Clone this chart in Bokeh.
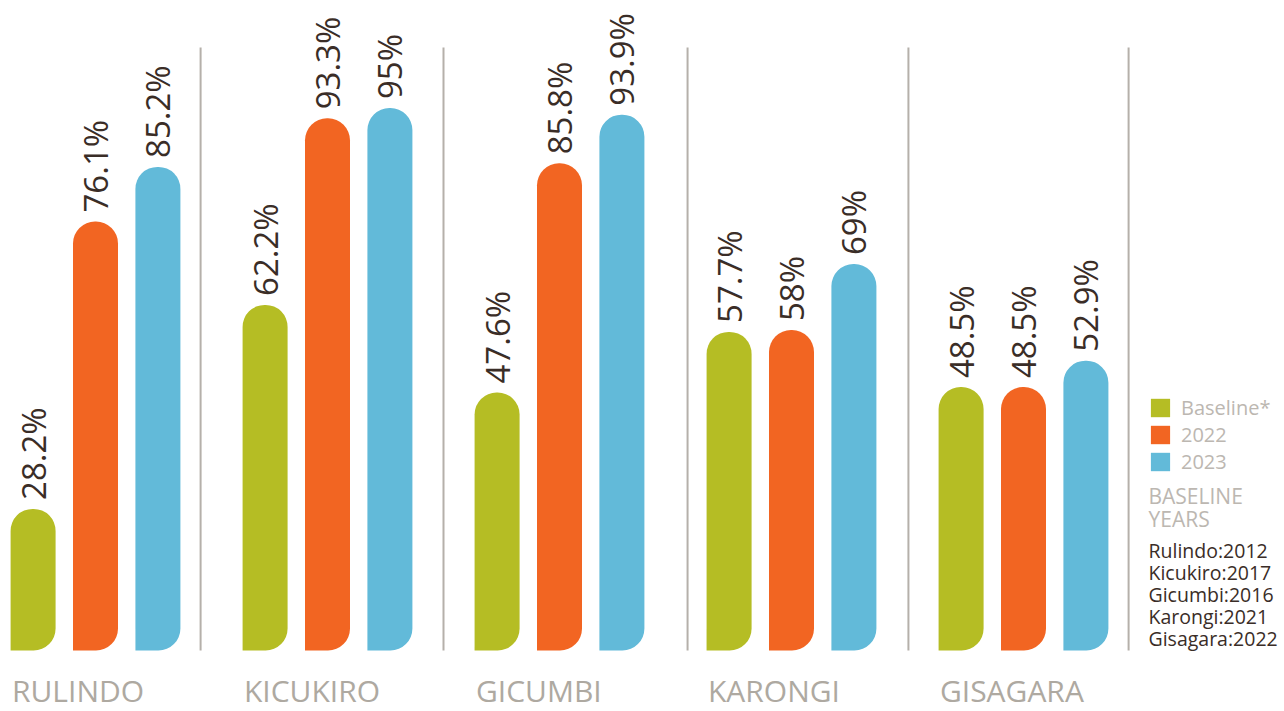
import math
from bokeh.plotting import figure
from bokeh.models import Range1d, ColumnDataSource, Legend, LegendItem, Label
from bokeh.core.properties import value
from bokeh.embed import file_html
from bokeh.resources import INLINE

# ---------------- data ----------------
districts = ["RULINDO", "KICUKIRO", "GICUMBI", "KARONGI", "GISAGARA"]
baseline = [28.2, 62.2, 47.6, 57.7, 48.5]
y2022 = [76.1, 93.3, 85.8, 58.0, 48.5]
y2023 = [85.2, 95.0, 93.9, 69.0, 52.9]
series_names = ["Baseline*", "2022", "2023"]
baseline_years = ["Rulindo:2012", "Kicukiro:2017", "Gicumbi:2016",
                  "Karongi:2021", "Gisagara:2022"]

# ---------------- style ----------------
COLORS = ["#b5bd24", "#f26522", "#62bad9"]
DARK = "#3a2d27"
GREY = "#aea9a1"
LIGHT_GREY = "#bcb7b1"
SEP = "#b5b0aa"
FONT_NAME = "Open Sans"
FONT = value(FONT_NAME)

W, H = 1284, 711
PX_PER_UNIT_Y = 6.0        # px per percentage point
BAR_BASE = 4.6             # value at the bars' foot line
PX_PER_GROUP = 232.0       # px per group
base_from_top = 650        # px of the bars' foot line
center0 = 95               # px of first group centre

p = figure(width=W, height=H, output_backend="svg", toolbar_location=None,
           min_border=0, outline_line_color=None, background_fill_color="white",
           border_fill_color="white")
x0 = -center0 / PX_PER_GROUP
p.x_range = Range1d(x0, x0 + W / PX_PER_GROUP)
y1 = BAR_BASE + base_from_top / PX_PER_UNIT_Y
p.y_range = Range1d(y1 - H / PX_PER_UNIT_Y, y1)
p.axis.visible = False
p.grid.visible = False

def py(px_from_top):
    """convert a pixel row into a y value"""
    return y1 - px_from_top / PX_PER_UNIT_Y

offsets = [-0.269, 0.0, 0.269]
bar_w = 45 / PX_PER_GROUP
idx = list(range(len(districts)))

# separators
sep_x = [0.453, 1.5, 2.552, 3.504, 4.453]
p.segment(x0=sep_x, y0=[BAR_BASE] * 5, x1=sep_x, y1=[py(47)] * 5,
          line_color=SEP, line_width=2)

renderers = []
for k, vals in enumerate([baseline, y2022, y2023]):
    xs = [i + offsets[k] for i in idx]
    src = ColumnDataSource(dict(x=xs, top=vals,
                                lab=[f"{v:g}%" for v in vals],
                                ly=[v + 9 / PX_PER_UNIT_Y for v in vals]))
    r = p.vbar(x="x", top="top", bottom=BAR_BASE, width=bar_w, source=src,
               fill_color=COLORS[k], line_color=None,
               border_radius=(22, 22, 22, 0))
    renderers.append(r)
    p.text(x="x", y="ly", text="lab", source=src, angle=math.pi / 2,
           text_align="left", text_baseline="middle",
           text_font=FONT, text_font_size="33px", text_color=DARK)

# category labels
p.text(x=[i - 0.36 for i in idx], y=[py(690)] * 5, text=districts,
       text_align="left", text_baseline="middle",
       text_font=FONT, text_font_size="30px", text_color=GREY)

# legend: one single-item legend per series, stacked
legend_square_tops = [397, 424, 451]
for k in range(3):
    lg = Legend(items=[LegendItem(label=series_names[k], renderers=[renderers[k]])],
                location=(1148, H - legend_square_tops[k] - 24),
                orientation="vertical",
                glyph_width=24, glyph_height=23, label_height=23,
                spacing=0, label_standoff=9, padding=0, margin=0,
                border_line_color=None, background_fill_alpha=0,
                label_text_font=FONT_NAME, label_text_font_size="20px",
                label_text_color=LIGHT_GREY)
    p.add_layout(lg, "center")

# baseline years note
for j, t in enumerate(["BASELINE", "YEARS"]):
    p.add_layout(Label(x=1148, y=H - 495.5 - 23 * j, x_units="screen", y_units="screen",
                       text=t, text_font=FONT_NAME, text_font_size="21px",
                       text_color=LIGHT_GREY, text_baseline="middle"))
for j, t in enumerate(baseline_years):
    p.add_layout(Label(x=1148, y=H - 550 - 22 * j, x_units="screen", y_units="screen",
                       text=t, text_font=FONT_NAME, text_font_size="19.5px",
                       text_color=DARK, text_baseline="middle"))

open("out.html", "w").write(file_html(p, INLINE))
